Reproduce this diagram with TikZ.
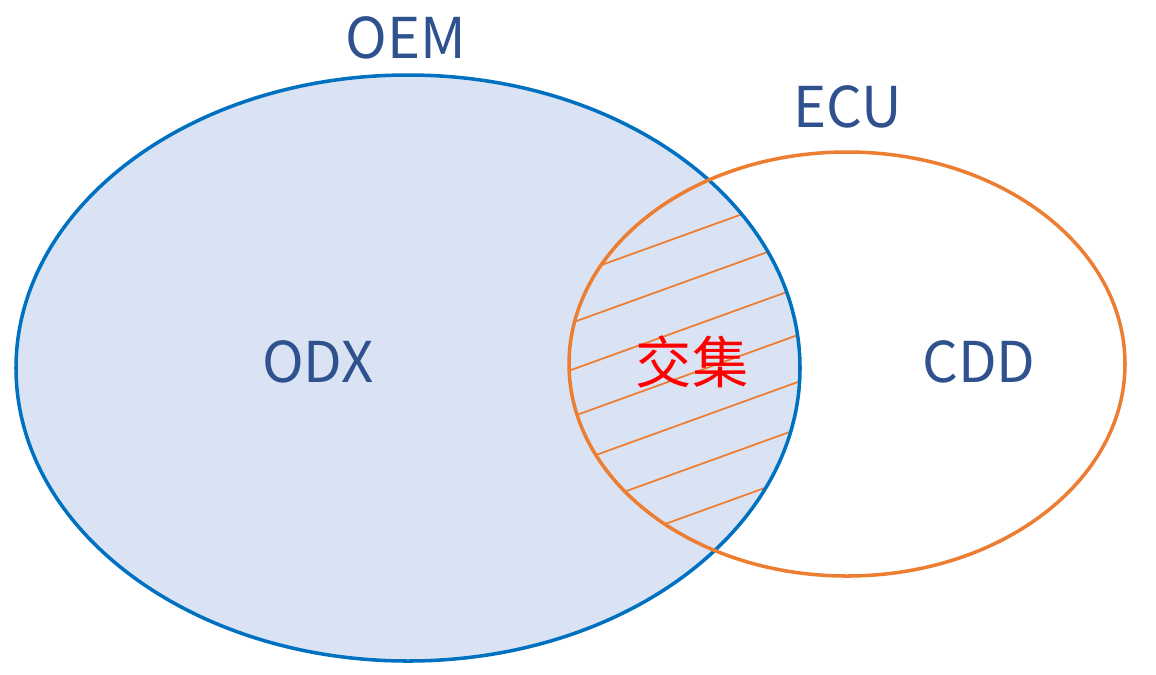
\documentclass[tikz,border=0pt]{standalone}
\usepackage{fontspec}
\setmainfont{Noto Sans CJK SC}
\definecolor{setblue}{RGB}{0,112,192}
\definecolor{setfill}{RGB}{218,227,243}
\definecolor{setorange}{RGB}{237,125,49}
\definecolor{labelblue}{RGB}{47,82,143}
\begin{document}
\begin{tikzpicture}[x=0.02cm,y=-0.02cm,
  setlabel/.style={text=labelblue,font=\fontsize{32}{36}\selectfont}]
\useasboundingbox (0,0) rectangle (1156,674);
\fill[setfill] (408,368) ellipse [x radius=392,y radius=293];
\begin{scope}
\clip (408,368) ellipse [x radius=392,y radius=293];
\clip (847,364) ellipse [x radius=278,y radius=212];
\foreach \y in {20,67,...,600}
  \draw[setorange,line width=1pt] (560,\y+260) -- (820,\y+166);
\end{scope}
\draw[setblue,line width=2pt] (408,368) ellipse [x radius=392,y radius=293];
\draw[setorange,line width=2pt] (847,364) ellipse [x radius=278,y radius=212];
\node[setlabel] (oem) at (406,38) {OEM};
\node[setlabel] (ecu) at (848,107) {ECU};
\node[setlabel] (odx) at (318,362) {ODX};
\node[setlabel,text=red] (inter) at (692,362) {交集};
\node[setlabel] (cdd) at (979,362) {CDD};
\end{tikzpicture}
\end{document}
